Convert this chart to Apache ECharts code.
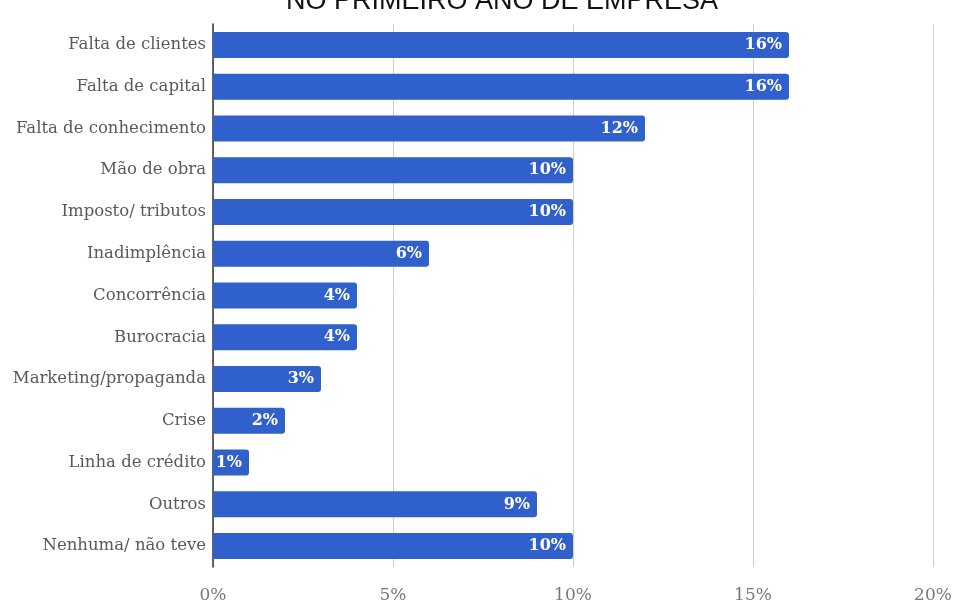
<!DOCTYPE html>
<html>
<head>
<meta charset="utf-8">
<script src="https://cdn.jsdelivr.net/npm/echarts@6/dist/echarts.min.js"></script>
<style>
  html, body { margin: 0; padding: 0; background: #fff; }
  #main { width: 955px; height: 605px; }
</style>
</head>
<body>
<div id="main"></div>
<script>
// 类别(从上到下)
var categories = [
    'Falta de clientes', 'Falta de capital', 'Falta de conhecimento', 'Mão de obra',
    'Imposto/ tributos', 'Inadimplência', 'Concorrência', 'Burocracia',
    'Marketing/propaganda', 'Crise', 'Linha de crédito', 'Outros', 'Nenhuma/ não teve'
];
// 百分比
var values = [16, 16, 12, 10, 10, 6, 4, 4, 3, 2, 1, 9, 10];
// x轴刻度
var xTicks = [0, 5, 10, 15, 20];

var serif = '"DejaVu Serif", "Liberation Serif", serif';

var myChart = echarts.init(document.getElementById('main'));

var option = {
    backgroundColor: '#fff',
    title: {
        text: 'NO PRIMEIRO ANO DE EMPRESA',
        left: 497,
        textAlign: 'center',
        top: -17,
        textStyle: {
            fontFamily: '"Liberation Sans", Arial, sans-serif',
            fontWeight: 'normal',
            fontSize: 27,
            color: '#111'
        }
    },
    grid: {
        left: 213,
        right: 22,
        top: 24,
        bottom: 38
    },
    xAxis: {
        type: 'value',
        min: xTicks[0],
        max: xTicks[xTicks.length - 1],
        interval: 5,
        axisLine: { show: false },
        axisTick: { show: false },
        splitLine: { lineStyle: { color: '#cfcfcf', width: 1 } },
        axisLabel: {
            formatter: '{value}%',
            fontFamily: serif,
            fontSize: 17,
            color: '#777',
            margin: 20
        }
    },
    yAxis: {
        type: 'category',
        data: categories,
        inverse: true,
        axisLine: { lineStyle: { color: '#333', width: 1.5 } },
        axisTick: { show: false },
        axisLabel: {
            fontFamily: serif,
            fontSize: 16.5,
            color: '#5a5a5a',
            margin: 7
        }
    },
    series: [
        {
            type: 'bar',
            data: values,
            barWidth: 26,
            itemStyle: {
                color: '#2f60cc',
                borderRadius: [0, 3, 3, 0]
            },
            label: {
                show: true,
                position: 'insideRight',
                distance: 7,
                formatter: '{c}%',
                fontFamily: serif,
                fontWeight: 'bold',
                fontSize: 16,
                color: '#fff'
            }
        }
    ]
};

myChart.setOption(option);
</script>
</body>
</html>
